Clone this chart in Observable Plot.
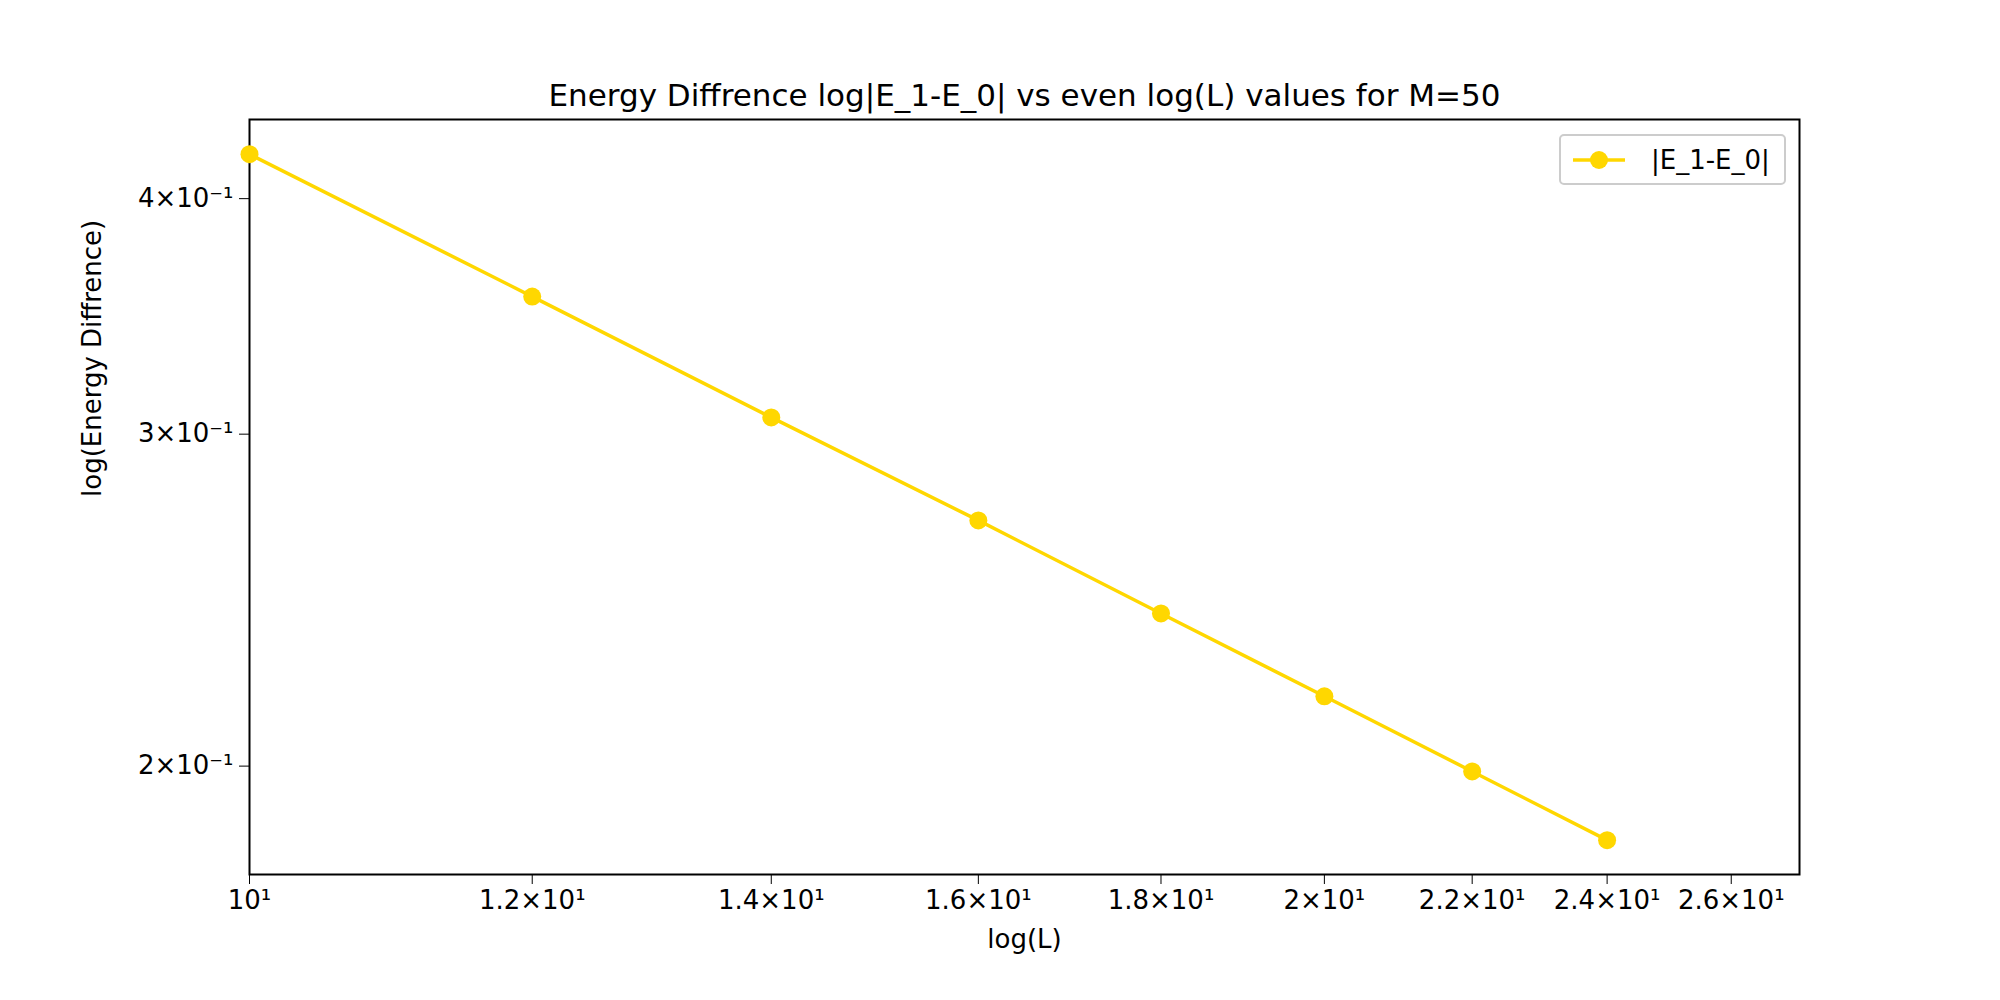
<!DOCTYPE html>
<html><head>
<script src="https://cdn.jsdelivr.net/npm/d3@7"></script>
<script src="https://cdn.jsdelivr.net/npm/@observablehq/plot@0.6"></script>
<style>body{margin:0;background:#fff;font-family:"DejaVu Sans",sans-serif}#wrap{position:relative;width:2000px;height:1000px}
#leg{position:absolute;left:1559px;top:134px;width:227px;height:51px;border:2px solid #ccc;border-radius:5px;box-sizing:border-box;background:#fff;font-size:26px;display:flex;align-items:center}
</style></head><body><div id="wrap"></div>
<script>
const L = [10, 12, 14, 16, 18, 20, 22, 24];
const dE = [0.4223, 0.3549, 0.3062, 0.270, 0.2410, 0.2178, 0.1987, 0.1827];
const xTicks = [10, 12, 14, 16, 18, 20, 22, 24, 26];
const xTickLabels = ["10¹", "1.2×10¹", "1.4×10¹", "1.6×10¹", "1.8×10¹", "2×10¹", "2.2×10¹", "2.4×10¹", "2.6×10¹"];
const yTicks = [0.2, 0.3, 0.4];
const yTickLabels = ["2×10⁻¹", "3×10⁻¹", "4×10⁻¹"];
const data = L.map((l, i) => ({L: l, E: dE[i]}));
const color = "#FFD700";
const plot = Plot.plot({
  width: 2000, height: 1000,
  marginLeft: 249, marginRight: 201, marginTop: 119, marginBottom: 126,
  style: {fontFamily: "DejaVu Sans, sans-serif", fontSize: "26px", color: "#000", background: "#fff"},
  x: {type: "log", domain: [10, 27.17]},
  y: {type: "log", domain: [0.1752, 0.4406]},
  marks: [
    Plot.frame({stroke: "#000", strokeWidth: 2}),
    Plot.axisX({ticks: xTicks, tickFormat: d => xTickLabels[xTicks.indexOf(d)], tickSize: 10, tickPadding: 6, label: null, fontSize: 26}),
    Plot.axisY({ticks: yTicks, tickFormat: d => yTickLabels[yTicks.indexOf(d)], tickSize: 10, tickPadding: 6, label: null, fontSize: 26}),
    Plot.text(["log(L)"], {frameAnchor: "bottom", dy: 73, fontSize: 26}),
    Plot.text(["log(Energy Diffrence)"], {frameAnchor: "left", dx: -157, rotate: -90, fontSize: 26}),
    Plot.text(["Energy Diffrence log|E_1-E_0| vs even log(L) values for M=50"], {frameAnchor: "top", dy: -36, fontSize: 31}),
    Plot.line(data, {x: "L", y: "E", stroke: color, strokeWidth: 3.5}),
    Plot.dot(data, {x: "L", y: "E", fill: color, r: 9})
  ]
});
const wrap = document.getElementById("wrap");
wrap.appendChild(plot);
const leg = document.createElement("div");
leg.id = "leg";
leg.innerHTML = `<svg width="80" height="30"><line x1="12" y1="15" x2="64" y2="15" stroke="${color}" stroke-width="3.5"/><circle cx="38" cy="15" r="9" fill="${color}"/></svg><span style="margin-left:10px">|E_1-E_0|</span>`;
wrap.appendChild(leg);
</script></body></html>
